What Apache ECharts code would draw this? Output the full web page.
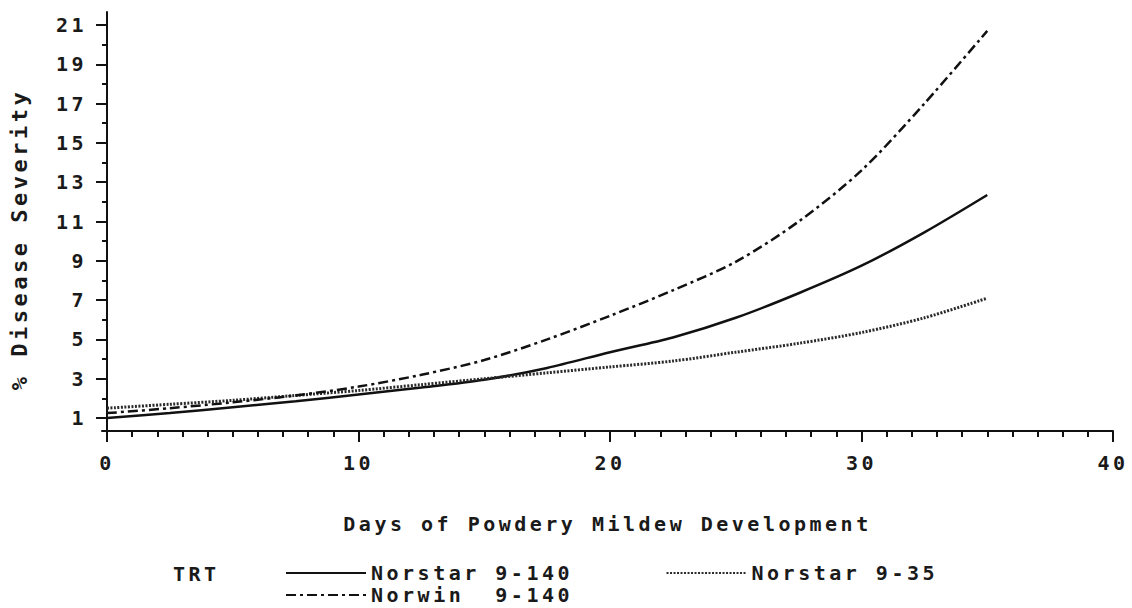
<!DOCTYPE html>
<html>
<head>
<meta charset="utf-8">
<script src="https://cdn.jsdelivr.net/npm/echarts@6/dist/echarts.min.js"></script>
<style>
  html, body { margin: 0; padding: 0; background: #fff; }
  #chart { width: 1132px; height: 608px; }
  #chart text { letter-spacing: 3.5px; }
</style>
</head>
<body>
<div id="chart"></div>
<script>
const days = [0, 2.5, 5, 7.5, 10, 12.5, 15, 17.5, 20, 22.5, 25, 27.5, 30, 32.5, 35];
const norstar140 = [1.0, 1.25, 1.55, 1.85, 2.2, 2.55, 2.95, 3.55, 4.35, 5.1, 6.1, 7.35, 8.75, 10.45, 12.35];
const norwin140 = [1.25, 1.5, 1.8, 2.15, 2.6, 3.2, 3.95, 5.0, 6.2, 7.5, 8.95, 11.0, 13.6, 17.0, 20.7];
const norstar35 = [1.5, 1.7, 1.9, 2.15, 2.4, 2.7, 3.0, 3.3, 3.6, 3.9, 4.35, 4.8, 5.35, 6.1, 7.1];
const xMajor = [0, 10, 20, 30, 40];
const xMinor = Array.from({length: 41}, (_, i) => i);
const yMajor = [1, 3, 5, 7, 9, 11, 13, 15, 17, 19, 21];
const yMinor = [2, 4, 6, 8, 10, 12, 14, 16, 18, 20];
const names = ['Norstar 9-140', 'Norstar 9-35', 'Norwin \u00a09-140'];

const FONT = 'DejaVu Sans Mono';
const INK = '#111';
const TXT = {fontFamily: FONT, fontSize: 20, fontWeight: 'bold', color: '#1a1a1a'};
const pairs = (ys) => days.map((d, i) => [d, ys[i]]);

const chart = echarts.init(document.getElementById('chart'), null, {renderer: 'svg'});
chart.setOption({
  animation: false,
  backgroundColor: '#fff',
  title: {
    text: 'TRT', left: 168, top: 559,
    textStyle: Object.assign({}, TXT)
  },
  legend: [
    {
      data: [names[0], names[1]], left: 280, top: 558, itemWidth: 80, itemHeight: 14, itemGap: 138,
      textStyle: Object.assign({}, TXT), itemStyle: {opacity: 0}
    },
    {
      data: [names[2]], left: 280, top: 580, itemWidth: 80, itemHeight: 14,
      textStyle: Object.assign({}, TXT), itemStyle: {opacity: 0}
    }
  ],
  grid: {left: 100, right: 19, top: 12, bottom: 177, containLabel: false},
  xAxis: [
    {
      type: 'value', min: -0.2, max: 40,
      name: 'Days of Powdery Mildew Development', nameLocation: 'middle', nameGap: 83,
      nameTextStyle: Object.assign({}, TXT),
      axisLine: {lineStyle: {color: INK, width: 2}},
      axisTick: {customValues: xMajor, length: 11, lineStyle: {color: INK, width: 2}},
      axisLabel: Object.assign({customValues: xMajor, margin: 22}, TXT),
      splitLine: {show: false}
    },
    {
      type: 'value', min: -0.2, max: 40, position: 'bottom',
      axisLine: {show: false},
      axisTick: {customValues: xMinor, length: 6, lineStyle: {color: INK, width: 2}},
      axisLabel: {show: false},
      splitLine: {show: false}
    }
  ],
  yAxis: [
    {
      type: 'value', min: 0.34, max: 21.66,
      name: '% Disease Severity', nameLocation: 'middle', nameGap: 72,
      nameTextStyle: Object.assign({}, TXT, {fontSize: 22, padding: [0, 36, 0, 0]}),
      axisLine: {show: true, lineStyle: {color: INK, width: 2}},
      axisTick: {show: true, customValues: yMajor, length: 11, lineStyle: {color: INK, width: 2}},
      axisLabel: Object.assign({customValues: yMajor, margin: 15}, TXT),
      splitLine: {show: false}
    },
    {
      type: 'value', min: 0.34, max: 21.66, position: 'left',
      axisLine: {show: false},
      axisTick: {show: true, customValues: yMinor, length: 5, lineStyle: {color: INK, width: 2}},
      axisLabel: {show: false},
      splitLine: {show: false}
    }
  ],
  series: [
    {
      name: names[0], type: 'line', smooth: 0.3, symbol: 'none', data: pairs(norstar140),
      lineStyle: {color: INK, width: 2.5, type: 'solid'}, itemStyle: {color: INK}
    },
    {
      name: names[1], type: 'line', smooth: 0.3, symbol: 'none', data: pairs(norstar35),
      lineStyle: {color: '#2a2a2a', width: 3, type: [2, 1.5]}, itemStyle: {color: '#2a2a2a'}
    },
    {
      name: names[2], type: 'line', smooth: 0.3, symbol: 'none', data: pairs(norwin140),
      lineStyle: {color: INK, width: 2.5, type: [10, 4, 3, 4]}, itemStyle: {color: INK}
    }
  ]
});
</script>
</body>
</html>
